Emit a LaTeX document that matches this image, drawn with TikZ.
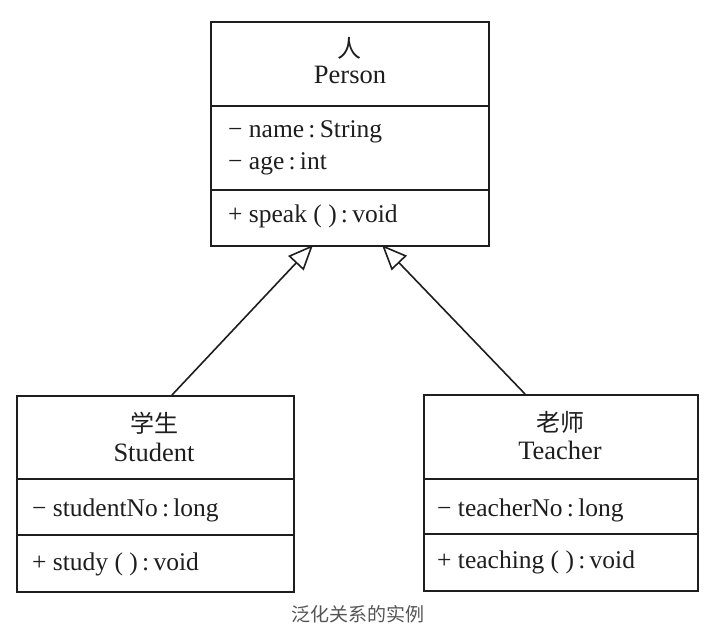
\documentclass[tikz,border=0pt]{standalone}
\usepackage{fontspec}
\setmainfont{Liberation Serif}
\newfontfamily\cjk{Noto Sans CJK SC}
\usetikzlibrary{arrows.meta}
\definecolor{ink}{HTML}{1E1E1E}
\definecolor{capgray}{HTML}{555555}
\tikzset{
  classbox/.style={draw=ink, line width=1.7pt, anchor=north west, inner sep=0pt},
  divider/.style={draw=ink, line width=1.5pt},
  title/.style={font=\fontsize{26.5}{30}\selectfont, text=ink, inner sep=0pt, anchor=base},
  cjktitle/.style={font=\cjk\fontsize{24}{30}\selectfont, text=ink, inner sep=0pt},
  member/.style={font=\fontsize{25.5}{30}\selectfont, text=ink, inner sep=0pt, anchor=base west},
  gen/.style={draw=ink, line width=1.6pt, -{Triangle[open, length=25pt, width=21pt, line width=1.6pt]}},
  caption/.style={font=\cjk\fontsize{19}{24}\selectfont, text=capgray, inner sep=0pt}
}
\begin{document}
\begin{tikzpicture}[x=1pt, y=-1pt]
\useasboundingbox[fill=white] (0,0) rectangle (716,631);
% Person
\node[classbox, minimum width=278pt, minimum height=224pt] (person) at (210,21) {};
\draw[divider] (210,106) -- (488,106);
\draw[divider] (210,190) -- (488,190);
\node[cjktitle] (pcn) at (349,48) {人};
\node[title] (pen) at (350,84) {Person};
\node[member] (pa1) at (228,138) {− name\,:\,String};
\node[member] (pa2) at (228,170) {− age\,:\,int};
\node[member] (pm1) at (228,223) {+ speak ( )\,:\,void};
% Student
\node[classbox, minimum width=277pt, minimum height=196pt] (student) at (16,395) {};
\draw[divider] (16,479) -- (293,479);
\draw[divider] (16,535) -- (293,535);
\node[cjktitle] (scn) at (154,423) {学生};
\node[title] (sen) at (154,462) {Student};
\node[member] (sa1) at (32,517) {− studentNo\,:\,long};
\node[member] (sm1) at (32,570) {+ study ( )\,:\,void};
% Teacher
\node[classbox, minimum width=274pt, minimum height=196pt] (teacher) at (423,394) {};
\draw[divider] (423,479) -- (697,479);
\draw[divider] (423,534) -- (697,534);
\node[cjktitle] (tcn) at (560,422) {老师};
\node[title] (ten) at (560,460) {Teacher};
\node[member] (ta1) at (437,517) {− teacherNo\,:\,long};
\node[member] (tm1) at (437,568) {+ teaching ( )\,:\,void};
% generalization connectors
\coordinate (s1) at (172,395);
\coordinate (p1) at (313,245);
\coordinate (t1) at (525,394);
\coordinate (p2) at (382,245);
\draw[gen] (s1) -- (p1);
\draw[gen] (t1) -- (p2);
% caption
\node[caption] (cap) at (358,614) {泛化关系的实例};
\end{tikzpicture}
\end{document}
